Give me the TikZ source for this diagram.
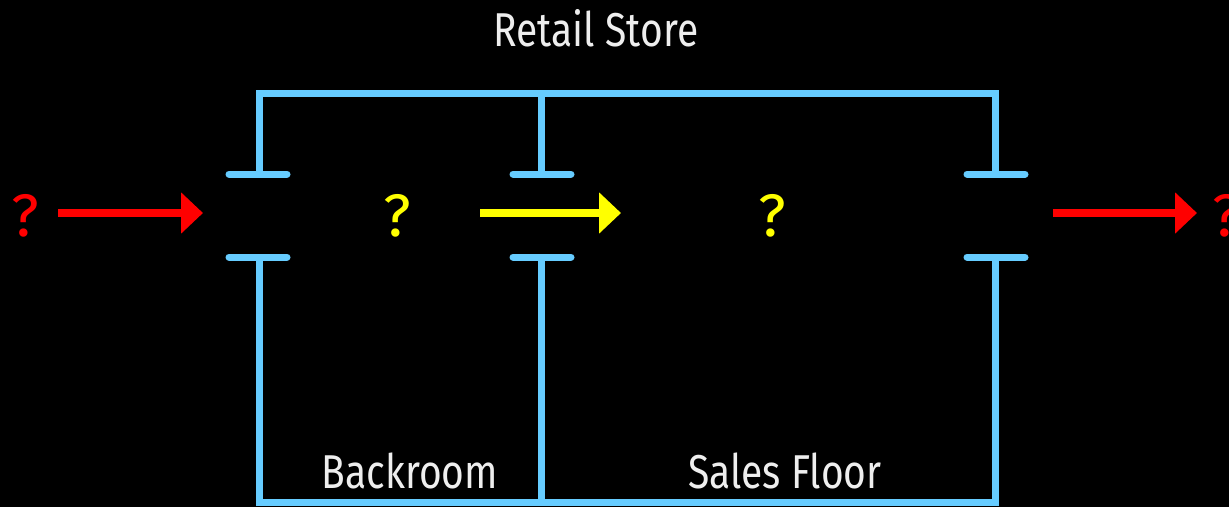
\documentclass[tikz,border=0pt]{standalone}
\usepackage{fontspec}
\setmainfont[FakeStretch=0.82]{Fira Sans}
\newfontfamily\qfont{Fira Sans}
\usetikzlibrary{arrows.meta}
\definecolor{wallblue}{HTML}{66CCFF}
\definecolor{txtgray}{HTML}{EEEEEE}
\definecolor{qred}{HTML}{FF0000}
\definecolor{qyellow}{HTML}{FFFF00}
\tikzset{
  wall/.style={draw=wallblue, line width=7pt, line join=miter},
  plate/.style={draw=wallblue, line width=7pt, line cap=round},
  flow/.style={line width=8pt, -{Triangle[length=22pt,width=40pt]}},
  label/.style={text=txtgray, font=\fontsize{47.5}{52}\selectfont, inner sep=0pt},
  qmark/.style={font=\qfont\fontsize{60}{64}\selectfont, inner sep=0pt}
}
\begin{document}
\begin{tikzpicture}[x=1pt,y=-1pt]
\fill[black] (0,0) rectangle (1229,507);
\useasboundingbox (0,0) rectangle (1229,507);
% walls
\draw[wall] (259,173) -- (259,93) -- (995,93) -- (995,173);
\draw[wall] (541,93) -- (541,173);
\draw[wall] (259,257) -- (259,502) -- (995,502) -- (995,257);
\draw[wall] (541,257) -- (541,502);
% plates
\foreach \x in {259,543,997}{
  \draw[plate] (\x-30,174) -- (\x+28,174);
  \draw[plate] (\x-30,257) -- (\x+28,257);
}
% labels
\node[label] (store) at (596,28) {Retail Store};
\node[label] (back) at (410,471) {Backroom};
\node[label] (sales) at (785,471) {Sales Floor};
% question marks
\node[qmark, text=qred] (qin) at (25,216) {?};
\node[qmark, text=qyellow] (qback) at (397,216) {?};
\node[qmark, text=qyellow] (qsales) at (772,216) {?};
\node[qmark, text=qred, anchor=west] (qout) at (1212,216) {?};
% arrows
\coordinate (a1s) at (58,213);
\coordinate (a1e) at (203,213);
\coordinate (a2s) at (480,213);
\coordinate (a2e) at (621,213);
\coordinate (a3s) at (1053,213);
\coordinate (a3e) at (1197,213);
\draw[flow, qred] (a1s) -- (a1e);
\draw[flow, qyellow] (a2s) -- (a2e);
\draw[flow, qred] (a3s) -- (a3e);
\end{tikzpicture}
\end{document}
